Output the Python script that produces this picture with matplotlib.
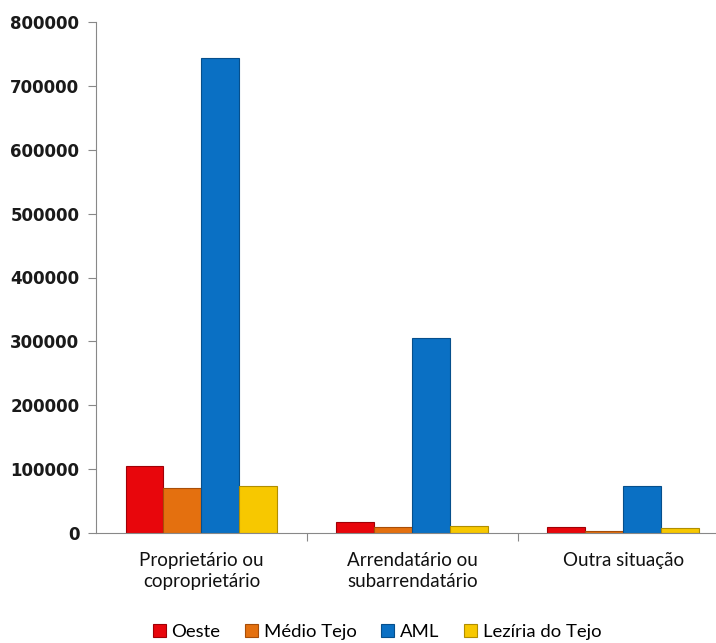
import numpy as np
import matplotlib.pyplot as plt

categories = ['Proprietário ou\ncoproprietário', 'Arrendatário ou\nsubarrendatário', 'Outra situação']
series = ['Oeste', 'Médio Tejo', 'AML', 'Lezíria do Tejo']
oeste = [105000, 17000, 9000]
medio_tejo = [70000, 9000, 3000]
aml = [743000, 305000, 73500]
leziria = [73500, 11000, 8000]
values = [oeste, medio_tejo, aml, leziria]
colors = ['#E8060C', '#E4700F', '#0A70C4', '#F7C800']
edges = ['#A00006', '#A84E08', '#064F8C', '#B08E00']

fig = plt.figure(figsize=(7.16, 6.43), dpi=100)
ax = fig.add_axes([96/716, 110/643, 1 - 96/716, 511/643])

x = np.arange(len(categories))
w = 0.18
for i, (vals, c, ec, name) in enumerate(zip(values, colors, edges, series)):
    ax.bar(x + (i - 1.5) * w, vals, w, color=c, edgecolor=ec, linewidth=0.8, label=name)

ax.set_xlim(-0.5, 2.44)
ax.set_ylim(0, 800000)
ax.set_yticks(np.arange(0, 800001, 100000))
ax.set_yticklabels([str(v) for v in range(0, 800001, 100000)],
                   fontsize=12, fontweight='bold', color='#1a1a1a')
ax.set_xticks([0.5, 1.5])
ax.set_xticklabels([])
ax.tick_params(axis='x', length=6, color='#888888')
ax.tick_params(axis='y', length=6, color='#888888', pad=6)
for i, lab in enumerate(categories):
    ax.text(i, -29000, lab, ha='center', va='top', fontsize=13.5,
            family='Lato', color='#111111', linespacing=1.3)

for s in ['top', 'right']:
    ax.spines[s].set_visible(False)
for s in ['left', 'bottom']:
    ax.spines[s].set_color('#888888')

fig.legend(loc='center', bbox_to_anchor=(377/716, 1 - 632/643), ncol=4,
           frameon=False, prop={'family': 'Lato', 'size': 13.3},
           handlelength=0.7, handleheight=0.7, handletextpad=0.3, columnspacing=1.35,
           borderpad=0.1)

fig.savefig('out.png', dpi=100)
